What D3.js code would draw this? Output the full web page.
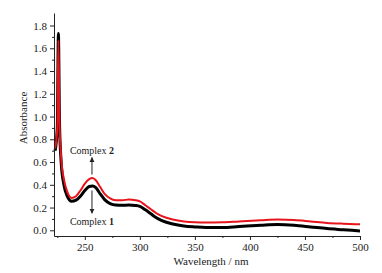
<!DOCTYPE html>
<html>
<head>
<meta charset="utf-8">
<script src="https://cdn.jsdelivr.net/npm/d3@7"></script>
<style>
  body { margin: 0; background: #fff; }
  text { font-family: "Liberation Serif", "Times New Roman", serif; }
</style>
</head>
<body>
<div id="chart"></div>
<script>
// wavelength (nm) sample points
const wavelength = [223, 225, 226, 227, 228.5, 231, 234, 238, 242, 246, 250, 254, 257, 260, 264, 268, 273, 278, 284, 290, 296, 300, 305, 310, 315, 320, 330, 340, 350, 360, 375, 390, 410, 425, 440, 455, 470, 485, 500];

// Complex 1 (black)
const complex1 = [0.70, 0.90, 1.73, 0.95, 0.60, 0.40, 0.30, 0.255, 0.265, 0.30, 0.35, 0.385, 0.39, 0.375, 0.32, 0.27, 0.235, 0.222, 0.22, 0.222, 0.218, 0.21, 0.18, 0.145, 0.11, 0.085, 0.055, 0.038, 0.03, 0.025, 0.025, 0.033, 0.044, 0.05, 0.044, 0.03, 0.015, 0.005, -0.005];

// Complex 2 (red)
const complex2 = [0.72, 0.90, 1.67, 0.95, 0.64, 0.45, 0.34, 0.285, 0.30, 0.35, 0.41, 0.45, 0.46, 0.44, 0.38, 0.32, 0.28, 0.265, 0.265, 0.27, 0.265, 0.255, 0.22, 0.185, 0.15, 0.125, 0.095, 0.078, 0.07, 0.068, 0.07, 0.078, 0.088, 0.094, 0.09, 0.078, 0.065, 0.058, 0.053];

const xTicks = [250, 300, 350, 400, 450, 500];
const yTicks = [0.0, 0.2, 0.4, 0.6, 0.8, 1.0, 1.2, 1.4, 1.6, 1.8];

const width = 382, height = 273;

const svg = d3.select("#chart")
    .append("svg")
    .attr("width", width)
    .attr("height", height);

// scales
const xScale = d3.scaleLinear()
    .domain([222, 500])
    .range([54, 360]);

const yScale = d3.scaleLinear()
    .domain([-0.05, 1.91])
    .range([236, 13]);

// curves, black first so red sits on top
const line = d3.line()
    .x(d => xScale(d[0]))
    .y(d => yScale(d[1]))
    .curve(d3.curveMonotoneX);

svg.append("path")
    .datum(wavelength.map((w, i) => [w, complex1[i]]))
    .attr("d", line)
    .attr("fill", "none")
    .attr("stroke", "#000")
    .attr("stroke-width", 3)
    .attr("stroke-linejoin", "round");

svg.append("path")
    .datum(wavelength.map((w, i) => [w, complex2[i]]))
    .attr("d", line)
    .attr("fill", "none")
    .attr("stroke", "#e8141c")
    .attr("stroke-width", 2)
    .attr("stroke-linejoin", "round");

// axes
const xAxis = svg.append("g")
    .attr("transform", `translate(0, ${yScale(-0.05)})`)
    .call(d3.axisBottom(xScale).tickValues(xTicks).tickFormat(d3.format("d")).tickSize(4).tickSizeOuter(0));

svg.append("g")
    .attr("transform", `translate(0, ${yScale(-0.05)})`)
    .call(d3.axisBottom(xScale).tickValues([225, 275, 325, 375, 425, 475]).tickFormat("").tickSize(2).tickSizeOuter(0))
    .select(".domain").remove();

const yAxis = svg.append("g")
    .attr("transform", `translate(${xScale(222)}, 0)`)
    .call(d3.axisLeft(yScale).tickValues(yTicks).tickFormat(d3.format(".1f")).tickSize(4).tickSizeOuter(0));

svg.append("g")
    .attr("transform", `translate(${xScale(222)}, 0)`)
    .call(d3.axisLeft(yScale).tickValues(d3.range(0.1, 1.9, 0.2)).tickFormat("").tickSize(2).tickSizeOuter(0))
    .select(".domain").remove();

svg.selectAll(".tick text")
    .style("font-family", "'Liberation Serif', serif")
    .style("font-size", "11px")
    .attr("fill", "#222");

svg.selectAll(".domain, .tick line").attr("stroke", "#222");

// axis titles
svg.append("text")
    .text("Wavelength / nm")
    .attr("x", 211)
    .attr("y", 265)
    .style("font-size", "11px")
    .style("text-anchor", "middle")
    .attr("fill", "#222");

svg.append("text")
    .text("Absorbance")
    .attr("transform", `translate(27, 118) rotate(-90)`)
    .style("font-size", "11px")
    .style("text-anchor", "middle")
    .attr("fill", "#222");

// arrow marker
svg.append("defs").append("marker")
    .attr("id", "arrow")
    .attr("viewBox", "0 0 10 10")
    .attr("refX", 9)
    .attr("refY", 5)
    .attr("markerWidth", 5)
    .attr("markerHeight", 6)
    .attr("orient", "auto")
    .append("path")
    .attr("d", "M0,0 L10,5 L0,10 Z")
    .attr("fill", "#222");

// annotations
const peak = 256.5;
svg.append("line")
    .attr("x1", xScale(peak)).attr("x2", xScale(peak))
    .attr("y1", yScale(0.49)).attr("y2", yScale(0.64))
    .attr("stroke", "#222").attr("stroke-width", 1)
    .attr("marker-end", "url(#arrow)");

svg.append("line")
    .attr("x1", xScale(peak)).attr("x2", xScale(peak))
    .attr("y1", yScale(0.35)).attr("y2", yScale(0.15))
    .attr("stroke", "#222").attr("stroke-width", 1)
    .attr("marker-end", "url(#arrow)");

const c2 = svg.append("text")
    .attr("x", xScale(peak))
    .attr("y", 154)
    .style("font-size", "10px")
    .style("text-anchor", "middle")
    .attr("fill", "#222");
c2.append("tspan").text("Complex ");
c2.append("tspan").text("2").style("font-weight", "bold");

const c1 = svg.append("text")
    .attr("x", xScale(peak))
    .attr("y", 225)
    .style("font-size", "10px")
    .style("text-anchor", "middle")
    .attr("fill", "#222");
c1.append("tspan").text("Complex ");
c1.append("tspan").text("1").style("font-weight", "bold");
</script>
</body>
</html>
